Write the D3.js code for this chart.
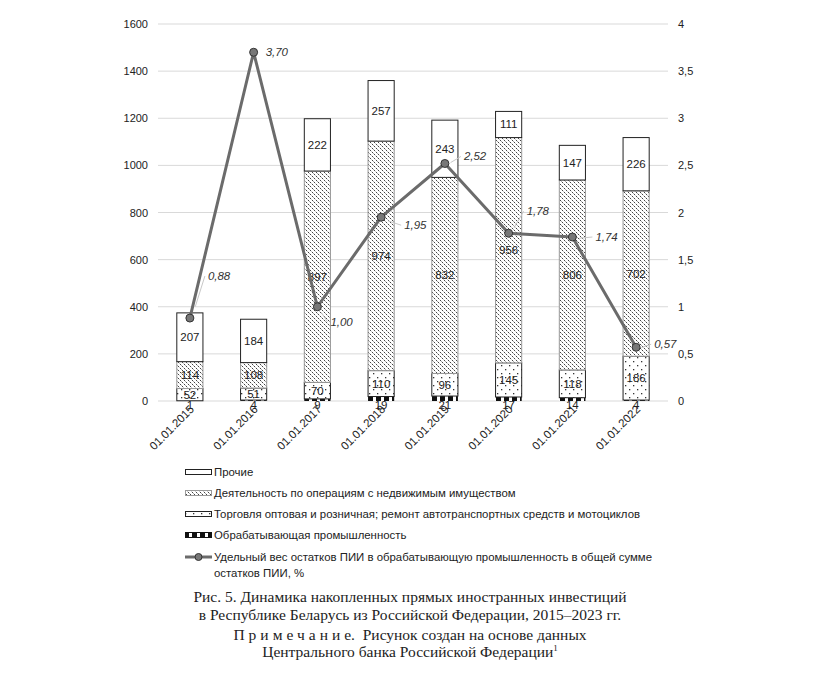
<!DOCTYPE html>
<html>
<head>
<meta charset="utf-8">
<script src="https://cdn.jsdelivr.net/npm/d3@7"></script>
<style>
  body { margin: 0; background: #fff; }
  svg { display: block; }
  .axis text { font-family: "Liberation Sans", Arial, sans-serif; font-size: 11px; fill: #222; }
  .legend text { font-family: "Liberation Sans", Arial, sans-serif; font-size: 11.4px; fill: #222; }
  .caption { font-family: "Liberation Serif", "Times New Roman", serif; font-size: 15.5px; fill: #222; }
</style>
</head>
<body>
<script>
"use strict";

// data
var dates = ["01.01.2015", "01.01.2016", "01.01.2017", "01.01.2018",
             "01.01.2019", "01.01.2020", "01.01.2021", "01.01.2022"];
var manufacturing = [1, 4, 9, 19, 21, 17, 14, 4];
var trade = [52, 51, 70, 110, 96, 145, 118, 186];
var realEstate = [114, 108, 897, 974, 832, 956, 806, 702];
var other = [207, 184, 222, 257, 243, 111, 147, 226];
var sharePct = [0.88, 3.70, 1.00, 1.95, 2.52, 1.78, 1.74, 0.57];
var leftTicks = [0, 200, 400, 600, 800, 1000, 1200, 1400, 1600];
var rightTicks = [0, 0.5, 1, 1.5, 2, 2.5, 3, 3.5, 4];

var seriesNames = [
  "Прочие",
  "Деятельность по операциям с недвижимым имуществом",
  "Торговля оптовая и розничная; ремонт автотранспортных средств и мотоциклов",
  "Обрабатывающая промышленность"
];
var lineName = ["Удельный вес остатков ПИИ в обрабатывающую промышленность в общей сумме",
                "остатков ПИИ, %"];

// label offsets for the line's value labels (pixels from the point)
var labelOffsets = [[18, -38], [12, 4], [13, 19], [23, 12], [19, -3], [18, -18], [23, 4], [18, 1]];

var W = 828, H = 674;
var svg = d3.select("body").append("svg").attr("width", W).attr("height", H);

// patterns
var defs = svg.append("defs");
var pRE = defs.append("pattern").attr("id", "pRE").attr("patternUnits", "userSpaceOnUse")
  .attr("width", 4).attr("height", 4);
pRE.append("rect").attr("width", 4).attr("height", 4).attr("fill", "#fff");
pRE.append("rect").attr("x", 0).attr("y", 0).attr("width", 1).attr("height", 1).attr("fill", "#444");
pRE.append("rect").attr("x", 2).attr("y", 2).attr("width", 1).attr("height", 1).attr("fill", "#444");
pRE.append("rect").attr("x", 1).attr("y", 1).attr("width", 1).attr("height", 1).attr("fill", "#aaa");
pRE.append("rect").attr("x", 3).attr("y", 3).attr("width", 1).attr("height", 1).attr("fill", "#ccc");

var pTr = defs.append("pattern").attr("id", "pTr").attr("patternUnits", "userSpaceOnUse")
  .attr("width", 8).attr("height", 8);
pTr.append("rect").attr("width", 8).attr("height", 8).attr("fill", "#fff");
pTr.append("rect").attr("x", 1).attr("y", 1).attr("width", 1.3).attr("height", 1.3).attr("fill", "#333");
pTr.append("rect").attr("x", 5).attr("y", 5).attr("width", 1.3).attr("height", 1.3).attr("fill", "#333");

var pMf = defs.append("pattern").attr("id", "pMf").attr("patternUnits", "userSpaceOnUse")
  .attr("width", 8).attr("height", 8);
pMf.append("rect").attr("width", 8).attr("height", 8).attr("fill", "#fff");
pMf.append("rect").attr("x", 0).attr("y", 0).attr("width", 5).attr("height", 8).attr("fill", "#111");

var fills = ["#fff", "url(#pRE)", "url(#pTr)", "url(#pMf)"];
var strokes = ["#222", "#999", "#222", "#111"];

// scales
var x = d3.scaleBand().domain(dates).range([158, 668]).paddingInner(0.59).paddingOuter(0.295);
var y = d3.scaleLinear().domain([0, 1600]).range([401, 24]);
var y2 = d3.scaleLinear().domain([0, 4]).range([401, 24]);

// grid
svg.append("g").selectAll("line").data(leftTicks).join("line")
  .attr("x1", 158).attr("x2", 668)
  .attr("y1", function(d) { return y(d); }).attr("y2", function(d) { return y(d); })
  .attr("stroke", "#d9d9d9").attr("stroke-width", 1);

// axes
var gl = svg.append("g").attr("class", "axis").attr("transform", "translate(158,0)")
  .call(d3.axisLeft(y).tickValues(leftTicks).tickSize(0).tickPadding(10).tickFormat(d3.format("d")));
gl.select(".domain").remove();
var gr = svg.append("g").attr("class", "axis").attr("transform", "translate(668,0)")
  .call(d3.axisRight(y2).tickValues(rightTicks).tickSize(0).tickPadding(10)
    .tickFormat(function(d) { return String(d).replace(".", ","); }));
gr.select(".domain").remove();

var gx = svg.append("g").attr("class", "axis");
gx.selectAll("text").data(dates).join("text")
  .attr("transform", function(d) { return "translate(" + (x(d) + x.bandwidth() / 2 + 5) + ",410) rotate(-45)"; })
  .attr("text-anchor", "end")
  .style("font-size", "11.5px")
  .text(function(d) { return d; });

// stacked bars (bottom to top)
var rows = dates.map(function(d, i) {
  return { date: d, mf: manufacturing[i], tr: trade[i], re: realEstate[i], ot: other[i] };
});
var stack = d3.stack().keys(["mf", "tr", "re", "ot"])(rows);
var keyIdx = { mf: 3, tr: 2, re: 1, ot: 0 };

stack.forEach(function(layer) {
  var k = keyIdx[layer.key];
  var g = svg.append("g");
  g.selectAll("rect").data(layer).join("rect")
    .attr("x", function(d) { return x(d.data.date); })
    .attr("width", x.bandwidth())
    .attr("y", function(d) { return y(d[1]); })
    .attr("height", function(d) { return y(d[0]) - y(d[1]); })
    .attr("fill", fills[k])
    .attr("stroke", k === 3 ? "none" : strokes[k])
    .attr("stroke-width", 1);
  g.selectAll("text").data(layer).join("text")
    .attr("x", function(d) { return x(d.data.date) + x.bandwidth() / 2; })
    .attr("y", function(d) {
      if (layer.key === "mf") return 409;
      return (y(d[0]) + y(d[1])) / 2 + 4;
    })
    .attr("text-anchor", "middle")
    .style("font-family", "Liberation Sans, Arial, sans-serif")
    .style("font-size", "11.5px")
    .style("fill", "#222")
    .text(function(d) { return d[1] - d[0]; });
});

// line
var pts = dates.map(function(d, i) { return [x(d) + x.bandwidth() / 2, y2(sharePct[i])]; });
svg.append("path").datum(pts)
  .attr("d", d3.line())
  .attr("fill", "none").attr("stroke", "#6b6b6b").attr("stroke-width", 3)
  .attr("stroke-linejoin", "round");

// leader lines and labels
pts.forEach(function(p, i) {
  var o = labelOffsets[i];
  var lx = p[0] + o[0], ly = p[1] + o[1];
  if (Math.abs(o[0]) + Math.abs(o[1]) > 16) {
    svg.append("line")
      .attr("x1", p[0] + o[0] * 0.3).attr("y1", p[1] + o[1] * 0.3)
      .attr("x2", lx - 3).attr("y2", ly - 4)
      .attr("stroke", "#c8c8c8").attr("stroke-width", 1);
  }
  svg.append("text")
    .attr("x", lx).attr("y", ly)
    .style("font-family", "Liberation Sans, Arial, sans-serif")
    .style("font-size", "11.5px").style("font-style", "italic").style("fill", "#333")
    .text(sharePct[i].toFixed(2).replace(".", ","));
});

svg.append("g").selectAll("circle").data(pts).join("circle")
  .attr("cx", function(d) { return d[0]; }).attr("cy", function(d) { return d[1]; })
  .attr("r", 4).attr("fill", "#777").attr("stroke", "#333").attr("stroke-width", 1);

// legend
var lg = svg.append("g").attr("class", "legend");
var legY = [472, 493, 514, 535];
seriesNames.forEach(function(n, i) {
  lg.append("rect").attr("x", 185.5).attr("y", legY[i] - 2.5).attr("width", 26).attr("height", 5)
    .attr("fill", fills[i]).attr("stroke", strokes[i]).attr("stroke-width", 1);
  lg.append("text").attr("x", 214).attr("y", legY[i] + 4).text(n);
});
lg.append("line").attr("x1", 185).attr("x2", 212).attr("y1", 557).attr("y2", 557)
  .attr("stroke", "#6b6b6b").attr("stroke-width", 3);
lg.append("circle").attr("cx", 198.5).attr("cy", 557).attr("r", 3.5)
  .attr("fill", "#777").attr("stroke", "#333");
lg.append("text").attr("x", 214).attr("y", 561).text(lineName[0]);
lg.append("text").attr("x", 214).attr("y", 577).text(lineName[1]);

// caption
var cap = svg.append("g").attr("class", "caption").attr("text-anchor", "middle");
cap.append("text").attr("x", 410).attr("y", 602).text("Рис. 5. Динамика накопленных прямых иностранных инвестиций");
cap.append("text").attr("x", 410).attr("y", 620).text("в Республике Беларусь из Российской Федерации, 2015–2023 гг.");
var t3 = cap.append("text").attr("x", 410).attr("y", 640);
t3.append("tspan").style("letter-spacing", "4px").text("Примечани");
t3.append("tspan").text("е.\u00a0\u00a0Рисунок создан на основе данных");
var t4 = cap.append("text").attr("x", 410).attr("y", 657);
t4.append("tspan").text("Центрального банка Российской Федерации");
t4.append("tspan").attr("dy", -6).style("font-size", "9px").text("1");
</script>
</body>
</html>
